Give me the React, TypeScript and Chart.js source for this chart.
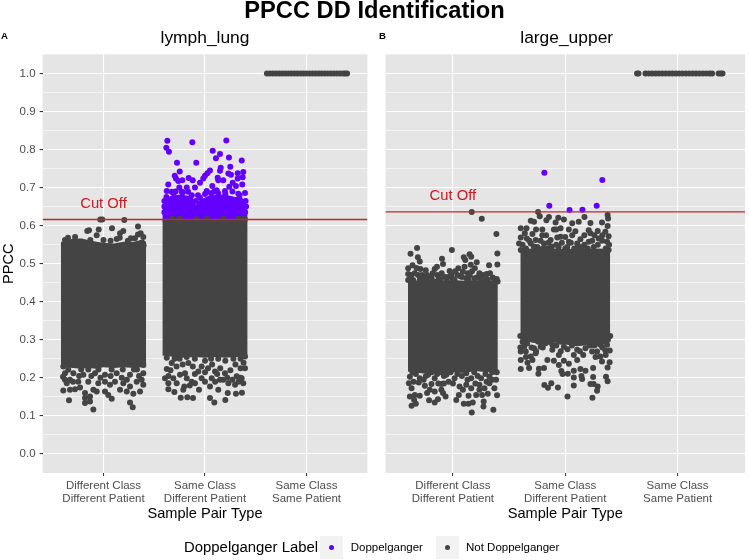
import React, { useEffect, useRef } from "react";
import { Chart, registerables } from "chart.js";

Chart.register(...registerables);

const FONT = "'Liberation Sans', Arial, sans-serif";
const GREY = "#444444";
const PURPLE = "#6400FF";

const chartTitle = "PPCC DD Identification";
const xAxisTitle = "Sample Pair Type";
const yAxisTitle = "PPCC";
const cutLabel = "Cut Off";
const legendTitle = "Doppelganger Label";
const legendNames = ["Doppelganger", "Not Doppelganger"];
const categories = [
  ["Different Class", "Different Patient"],
  ["Same Class", "Different Patient"],
  ["Same Class", "Same Patient"],
];
const categoryPositions = [1, 2, 3];
const yTicks = [0, 0.05, 0.1, 0.15, 0.2, 0.25, 0.3, 0.35, 0.4, 0.45, 0.5, 0.55, 0.6, 0.65, 0.7, 0.75, 0.8, 0.85, 0.9, 0.95, 1];

const lymphCut = 0.6162;
const largeCut = 0.6362;

// The saturated centre of each cloud is opaque in the reference, so single points
// cannot be read there: it is kept as its outline (x, upper PPCC, lower PPCC).
const lymphDiffMassX = [0.58, 0.6, 0.7, 0.78, 0.85, 0.93, 1.0, 1.1, 1.2, 1.3, 1.38, 1.42];
const lymphDiffMassTop = [0.558, 0.558, 0.566, 0.566, 0.562, 0.558, 0.555, 0.553, 0.558, 0.558, 0.563, 0.558];
const lymphDiffMassLow = [0.228, 0.228, 0.226, 0.224, 0.226, 0.224, 0.228, 0.226, 0.228, 0.226, 0.228, 0.228];
const lymphSameMassX = [1.58, 1.6, 1.7, 1.8, 1.9, 2.0, 2.1, 2.2, 2.3, 2.4, 2.42];
const lymphSameMassTop = [0.6165, 0.6165, 0.6165, 0.6165, 0.6165, 0.6165, 0.6165, 0.6165, 0.6165, 0.6165, 0.6165];
const lymphSameMassLow = [0.258, 0.258, 0.255, 0.253, 0.255, 0.253, 0.255, 0.253, 0.255, 0.255, 0.258];
const lymphPurpleMassX = [1.58, 1.606, 1.655, 1.754, 1.852, 1.882, 1.911, 1.951, 2.049, 2.197, 2.296, 2.364, 2.414, 2.42];
const lymphPurpleMassTop = [0.64, 0.66, 0.678, 0.682, 0.678, 0.672, 0.655, 0.668, 0.68, 0.682, 0.675, 0.675, 0.65, 0.635];
const lymphPurpleMassLow = [0.61, 0.61, 0.61, 0.61, 0.61, 0.61, 0.61, 0.61, 0.61, 0.61, 0.61, 0.61, 0.61, 0.61];
const largeDiffMassX = [0.6, 0.62, 0.7, 0.8, 0.9, 1.0, 1.1, 1.2, 1.3, 1.38, 1.4];
const largeDiffMassTop = [0.457, 0.457, 0.455, 0.457, 0.455, 0.457, 0.455, 0.457, 0.455, 0.457, 0.457];
const largeDiffMassLow = [0.216, 0.216, 0.213, 0.21, 0.212, 0.215, 0.213, 0.218, 0.215, 0.216, 0.216];
const largeSameMassX = [1.6, 1.62, 1.7, 1.8, 1.9, 2.0, 2.1, 2.2, 2.3, 2.39, 2.4];
const largeSameMassTop = [0.538, 0.538, 0.54, 0.538, 0.54, 0.538, 0.54, 0.538, 0.54, 0.538, 0.538];
const largeSameMassLow = [0.298, 0.298, 0.293, 0.288, 0.293, 0.288, 0.283, 0.286, 0.283, 0.293, 0.298];

const lymphDiffPoints = [
  [0.988,0.616],[0.968,0.616],[1.205,0.615],[0.857,0.588],[0.953,0.59],[1.084,0.593],[1.34,0.598],[1.195,0.586],[1.163,0.58],[1.366,0.58],[1.392,0.57],[0.933,0.575],[0.84,0.586],[1.16,0.568],[1.27,0.567],[1.34,0.577],
  [0.62,0.562],[0.65,0.568],[0.72,0.57],[0.79,0.558],[0.87,0.562],[1.0,0.562],[1.07,0.56],[1.13,0.565],[1.24,0.56],[1.31,0.567],[1.38,0.556],[0.61,0.55],[1.395,0.548],
  [0.604,0.167],[0.66,0.141],[0.9,0.117],[1.288,0.123],[1.261,0.135],[0.818,0.134],[0.867,0.138],[0.818,0.147],[0.818,0.16],[0.867,0.151],[1.081,0.145],[1.047,0.155],[1.015,0.164],[0.67,0.169],[0.719,0.17],[0.769,0.175],[0.9,0.169],[0.933,0.164],[1.163,0.169],[1.229,0.164],[1.294,0.158],[1.36,0.164],[1.392,0.182],[1.376,0.195],[1.327,0.19],[1.261,0.177],[0.638,0.186],[0.601,0.203],[0.604,0.23],[0.67,0.195],[0.752,0.19],[0.85,0.19],[0.949,0.186],[1.064,0.182],[1.113,0.19],[1.195,0.186],[0.703,0.212],[0.801,0.208],[0.916,0.212],[1.015,0.208],[1.13,0.212],[1.261,0.208],[1.392,0.212],[0.621,0.212],[1.015,0.19],[0.653,0.221],[1.392,0.234],
  [0.78,0.222],[0.85,0.222],[0.95,0.222],[1.08,0.222],[1.19,0.222],[1.3,0.222],[1.35,0.205],[0.76,0.205],[0.88,0.205],[0.97,0.2],[1.07,0.205],[1.18,0.2],[1.23,0.195],[1.33,0.222],[0.62,0.195],[0.7,0.19],
];
const lymphSamePoints = [
  [1.68,0.618],[1.75,0.619],[1.92,0.617],[2.02,0.618],[2.18,0.618],[2.33,0.619],[2.39,0.618],
  [1.623,0.223],[1.606,0.199],[1.639,0.186],[1.639,0.17],[1.698,0.163],[1.761,0.148],[1.826,0.149],[1.882,0.147],[1.941,0.169],[1.786,0.169],[1.796,0.177],[1.721,0.186],[1.688,0.199],[1.754,0.208],[1.82,0.199],[1.869,0.19],[1.901,0.186],[1.967,0.199],[2.049,0.147],[2.092,0.135],[2.2,0.142],[2.305,0.158],[2.364,0.161],[2.224,0.16],[2.131,0.169],[2.049,0.177],[2.0,0.19],[2.066,0.199],[2.148,0.195],[2.23,0.186],[2.296,0.182],[2.377,0.186],[2.394,0.225],[2.312,0.204],[2.197,0.212],[2.099,0.217],[1.934,0.217],[1.803,0.212],[1.672,0.239],[1.836,0.239],[2.394,0.256],[1.623,0.253],[1.967,0.23],[2.361,0.199],
  [1.66,0.22],[1.72,0.23],[1.78,0.235],[1.88,0.23],[1.9,0.21],[2.03,0.225],[2.07,0.235],[2.15,0.225],[2.25,0.22],[2.3,0.235],[2.35,0.225],[2.1,0.19],[2.18,0.195],[2.27,0.195],[2.33,0.19],[1.64,0.205],[2.0,0.215],[1.85,0.18],[2.22,0.2],[2.12,0.21],[2.35,0.2],[2.38,0.24],
  [1.7,0.25],[1.75,0.25],[1.82,0.255],[1.9,0.25],[2.0,0.245],[2.06,0.25],[2.13,0.25],[2.2,0.245],[2.28,0.25],[2.35,0.25],
];
const lymphSameDoppelganger = [
  [1.629,0.823],[1.875,0.819],[2.21,0.824],[1.619,0.805],[1.645,0.794],[2.076,0.797],[2.148,0.788],[2.108,0.777],[2.236,0.779],[2.362,0.771],[1.724,0.765],[1.914,0.765],[2.249,0.755],[1.751,0.742],[2.049,0.745],[2.155,0.752],[2.148,0.744],[2.377,0.741],[2.322,0.738],[2.23,0.737],[2.256,0.734],[2.023,0.738],[1.702,0.731],[1.714,0.724],[2.0,0.731],[1.983,0.724],[2.125,0.726],[2.131,0.719],[2.371,0.727],[2.322,0.724],[1.839,0.725],[1.879,0.719],[1.776,0.719],[1.737,0.717],[1.951,0.713],[2.18,0.719],[2.273,0.713],[1.638,0.708],[2.367,0.708],[2.305,0.704],[1.623,0.691],[1.747,0.7],[1.82,0.7],[1.901,0.7],[2.072,0.704],[2.394,0.686],[2.239,0.702],
  [1.931,0.68],[2.017,0.691],[1.672,0.689],[1.771,0.689],[1.833,0.689],[2.115,0.693],[2.197,0.691],[2.328,0.684],
  [1.6,0.665],[1.62,0.675],[1.69,0.685],[1.78,0.687],[1.87,0.68],[1.95,0.673],[2.0,0.683],[2.06,0.685],[2.13,0.685],[2.2,0.683],[2.27,0.69],[2.34,0.68],[2.4,0.665],[2.405,0.65],[1.6,0.65],[1.91,0.665],[2.09,0.69],[1.71,0.69],[2.395,0.635],[1.6,0.635],
];
const lymphSelfX = [2.61,2.64,2.67,2.7,2.73,2.76,2.79,2.82,2.85,2.88,2.91,2.94,2.97,3.0,3.03,3.06,3.09,3.12,3.15,3.18,3.21,3.24,3.27,3.3,3.33,3.36,3.38,3.4];

const largeDiffPoints = [
  [1.168,0.636],[1.257,0.618],[1.387,0.578],[0.681,0.541],[0.623,0.526],[0.991,0.536],[1.396,0.527],[0.688,0.517],[0.705,0.506],[0.903,0.513],[1.148,0.525],[1.163,0.518],[1.097,0.517],[1.11,0.51],[1.212,0.504],[1.159,0.497],[1.396,0.498],[1.322,0.496],[0.912,0.499],[0.858,0.492],[0.838,0.486],[0.641,0.496],[0.602,0.488],[0.676,0.489],[0.711,0.486],[0.758,0.483],[0.726,0.47],[1.048,0.488],[1.104,0.492],[1.195,0.488],[0.971,0.481],[0.986,0.47],[1.089,0.479],[1.133,0.475],[1.236,0.475],[1.301,0.473],[1.266,0.47],[0.602,0.473],[1.354,0.464],[1.398,0.453],[0.809,0.464],[0.876,0.46],[1.059,0.468],[1.192,0.462],[0.602,0.457],[0.646,0.457],[0.705,0.457],[0.779,0.457],[0.838,0.453],[0.942,0.453],[1.015,0.457],[1.119,0.462],[1.281,0.453],
  [0.63,0.47],[0.66,0.475],[0.69,0.47],[0.74,0.46],[0.77,0.47],[0.82,0.475],[0.86,0.47],[0.9,0.475],[0.93,0.465],[0.96,0.465],[1.02,0.48],[1.04,0.47],[1.08,0.465],[1.15,0.47],[1.17,0.48],[1.22,0.465],[1.25,0.46],[1.3,0.46],[1.33,0.475],[1.37,0.46],[0.62,0.46],[0.72,0.46],[0.89,0.46],[1.0,0.46],[1.14,0.46],[1.31,0.458],[1.39,0.46],
  [1.168,0.109],[1.36,0.116],[0.632,0.127],[0.67,0.132],[0.617,0.151],[0.655,0.142],[0.661,0.155],[0.705,0.153],[0.788,0.141],[0.838,0.135],[0.867,0.144],[0.935,0.151],[1.03,0.142],[1.053,0.155],[1.097,0.132],[1.139,0.132],[1.177,0.135],[1.274,0.138],[1.272,0.125],[1.393,0.154],[1.139,0.153],[1.207,0.155],[1.26,0.155],[1.31,0.158],[0.632,0.173],[0.608,0.186],[0.696,0.188],[0.75,0.179],[0.794,0.169],[0.838,0.164],[0.897,0.169],[0.912,0.16],[0.77,0.16],[0.809,0.184],[0.897,0.184],[0.962,0.19],[1.059,0.177],[1.089,0.169],[1.163,0.173],[1.236,0.169],[1.281,0.173],[1.325,0.186],[1.369,0.173],[1.384,0.195],[0.617,0.203],[0.705,0.199],[0.838,0.199],[1.015,0.199],[1.119,0.212],[1.163,0.199],[1.251,0.199],[1.325,0.203],[0.942,0.208],[0.779,0.208],[1.236,0.182],[1.119,0.182],
  [0.64,0.215],[0.67,0.21],[0.73,0.22],[0.76,0.205],[0.81,0.215],[0.86,0.21],[0.89,0.215],[0.92,0.205],[0.98,0.215],[1.04,0.21],[1.08,0.205],[1.13,0.195],[1.19,0.215],[1.22,0.205],[1.29,0.21],[1.35,0.215],[1.39,0.215],[0.65,0.19],[0.74,0.195],[0.87,0.185],[0.92,0.185],[1.0,0.185],[1.2,0.185],[1.3,0.19],[1.35,0.195],
];
const largeSamePoints = [
  [1.758,0.636],[1.773,0.625],[1.855,0.623],[1.832,0.614],[1.938,0.621],[1.988,0.616],[1.914,0.608],[2.171,0.623],[2.12,0.61],[2.062,0.606],[2.224,0.607],[2.327,0.608],[2.377,0.628],[2.381,0.619],[1.693,0.613],[1.722,0.61],[2.377,0.599],[1.655,0.593],[1.604,0.593],[1.796,0.59],[1.899,0.59],[1.958,0.593],[2.032,0.59],[2.209,0.588],[2.289,0.586],[2.357,0.584],[1.708,0.578],[1.796,0.575],[1.958,0.571],[2.062,0.575],[2.224,0.58],[2.386,0.572],[1.604,0.569],[1.658,0.566],[1.737,0.562],[1.87,0.562],[2.032,0.558],[2.135,0.564],[2.297,0.566],[1.589,0.553],[1.693,0.553],[1.811,0.553],[1.929,0.569],[2.106,0.553],[2.209,0.558],[2.372,0.558],[1.752,0.544],[1.941,0.544],[2.018,0.544],[2.15,0.543],[2.253,0.544],[1.604,0.536],[1.841,0.54],[2.386,0.536],
  [1.62,0.55],[1.65,0.54],[1.68,0.56],[1.72,0.545],[1.78,0.56],[1.8,0.54],[1.85,0.555],[1.88,0.545],[1.92,0.55],[1.97,0.555],[2.0,0.54],[2.05,0.555],[2.08,0.54],[2.12,0.545],[2.17,0.55],[2.2,0.54],[2.24,0.56],[2.29,0.55],[2.33,0.56],[2.36,0.54],[2.39,0.55],[1.64,0.58],[1.74,0.59],[1.83,0.575],[1.92,0.59],[2.0,0.57],[2.09,0.585],[2.17,0.575],[2.26,0.575],[2.33,0.575],
  [2.02,0.151],[2.242,0.148],[1.935,0.175],[2.076,0.18],[1.814,0.181],[1.846,0.174],[1.876,0.186],[2.224,0.184],[2.289,0.177],[2.283,0.166],[2.253,0.184],[2.377,0.191],[2.363,0.203],[2.248,0.202],[2.15,0.197],[2.076,0.201],[1.761,0.211],[1.604,0.223],[1.678,0.226],[1.766,0.224],[1.811,0.226],[1.965,0.218],[1.976,0.21],[2.023,0.211],[2.076,0.219],[2.135,0.223],[2.18,0.219],[2.248,0.226],[2.377,0.227],[2.395,0.241],[2.144,0.205],[1.604,0.247],[1.664,0.24],[1.708,0.247],[1.841,0.247],[1.899,0.245],[1.943,0.234],[1.988,0.245],[2.032,0.237],[2.312,0.256],[2.327,0.243],[2.106,0.247],[1.604,0.269],[1.649,0.269],[1.693,0.256],[1.737,0.265],[1.781,0.282],[1.885,0.274],[1.943,0.26],[2.076,0.26],[2.106,0.274],[2.239,0.269],[2.283,0.269],[2.357,0.272],[2.396,0.272],[1.634,0.291],[1.634,0.282],[1.826,0.291],[1.988,0.282],[2.18,0.278],[2.312,0.287],[2.372,0.287],[1.722,0.278],[1.885,0.287],
  [1.62,0.295],[1.66,0.29],[1.7,0.28],[1.76,0.295],[1.8,0.28],[1.85,0.295],[1.92,0.285],[1.96,0.295],[2.02,0.275],[2.06,0.285],[2.13,0.27],[2.22,0.285],[2.26,0.285],[2.33,0.28],[2.38,0.3],[1.6,0.31],[2.4,0.31],[1.74,0.27],[1.65,0.255],[1.96,0.27],[2.16,0.26],[2.27,0.255],[2.36,0.26],[1.6,0.28],
];
const largeSameDoppelganger = [
  [1.858,0.652],[2.038,0.641],[2.153,0.642],[2.28,0.652],[1.814,0.739],[2.33,0.72],
];
const largeSelfX = [2.639,2.652,2.714,2.744,2.774,2.804,2.834,2.864,2.894,2.924,2.954,2.984,3.014,3.044,3.074,3.104,3.134,3.164,3.194,3.224,3.254,3.284,3.307,3.365,3.385,3.4];

const toPoints = (rows: number[][]) => rows.map(([x, y]) => ({ x, y }));
const selfPoints = (xs: number[]) => xs.map((x) => ({ x, y: 1 }));
const outline = (xs: number[], ys: number[]) => xs.map((x, i) => ({ x, y: ys[i] }));

function massDatasets(xs: number[], top: number[], low: number[], color: string, order: number) {
  return [
    { data: outline(xs, top), showLine: true, borderWidth: 0, pointRadius: 0, backgroundColor: color, fill: "+1", order, tension: 0 },
    { data: outline(xs, low), showLine: true, borderWidth: 0, pointRadius: 0, backgroundColor: color, fill: false, order, tension: 0 },
  ];
}
const dots = (data: any[], color: string, order: number) => ({
  data, showLine: false, pointRadius: 3, pointBorderWidth: 0, pointBackgroundColor: color, backgroundColor: color, order,
});

function Panel({ left, width, areaLeft, areaRight, showY, cut, datasets }: any) {
  const ref = useRef<HTMLCanvasElement | null>(null);
  useEffect(() => {
    if (!ref.current) return;
    const panelPlugin = {
      id: "panelDecor",
      beforeDraw(c: any) {
        const { ctx, chartArea: a } = c;
        ctx.save();
        ctx.fillStyle = "#E5E5E5";
        ctx.fillRect(a.left, a.top, a.right - a.left, a.bottom - a.top);
        ctx.restore();
      },
      afterDatasetsDraw(c: any) {
        const { ctx, scales } = c;
        ctx.save();
        ctx.fillStyle = "#D2161E";
        ctx.font = `14.8px ${FONT}`;
        ctx.textAlign = "center";
        ctx.textBaseline = "middle";
        ctx.fillText(cutLabel, scales.x.getPixelForValue(1), scales.y.getPixelForValue(cut + 0.041));
        ctx.restore();
      },
    };
    const chart = new Chart(ref.current, {
      type: "scatter",
      data: {
        datasets: [
          { data: [{ x: 0.4, y: cut }, { x: 3.6, y: cut }], showLine: true, borderColor: "#B92A2E", borderWidth: 1.3, pointRadius: 0, fill: false, order: 1 },
          ...datasets,
        ],
      },
      plugins: [panelPlugin],
      options: {
        animation: false,
        responsive: false,
        maintainAspectRatio: false,
        events: [],
        layout: { padding: { top: 54.4, left: 0, right: width - areaRight, bottom: 37 } },
        plugins: { legend: { display: false }, tooltip: { enabled: false }, title: { display: false } },
        scales: {
          x: {
            type: "linear",
            min: 0.4,
            max: 3.6,
            afterBuildTicks: (s: any) => { s.ticks = categoryPositions.map((value) => ({ value })); },
            afterFit: (s: any) => { s.height = 50; },
            border: { display: false },
            grid: { color: "#FFFFFF", lineWidth: 1.1, tickColor: "#333333", tickLength: 3, tickWidth: 1 },
            ticks: {
              color: "#4D4D4D",
              font: { family: FONT, size: 11.5, lineHeight: 1.08 },
              padding: 4,
              autoSkip: false,
              maxRotation: 0,
              callback: (v: any) => categories[Number(v) - 1],
            },
            title: { display: true, text: xAxisTitle, color: "#000000", font: { family: FONT, size: 14.6 }, padding: { top: 0, bottom: 0 } },
          },
          y: {
            type: "linear",
            min: -0.05,
            max: 1.05,
            afterBuildTicks: (s: any) => { s.ticks = yTicks.map((value) => ({ value })); },
            afterFit: (s: any) => { s.width = areaLeft; },
            border: { display: false },
            grid: {
              color: "#FFFFFF",
              lineWidth: (c: any) => (Math.round(c.tick.value * 100) % 10 === 0 ? 1.1 : 0.55),
              tickColor: (c: any) => (Math.round(c.tick.value * 100) % 10 === 0 ? "#333333" : "rgba(0,0,0,0)"),
              tickLength: 3,
              drawTicks: showY,
            },
            ticks: {
              display: showY,
              color: "#4D4D4D",
              font: { family: FONT, size: 11.5 },
              padding: 4,
              autoSkip: false,
              callback: (v: any) => (Math.round(Number(v) * 100) % 10 === 0 ? Number(v).toFixed(1) : ""),
            },
            title: { display: showY, text: yAxisTitle, color: "#000000", font: { family: FONT, size: 14.6 }, padding: { top: 0, bottom: 0 } },
          },
        },
      },
    } as any);
    return () => chart.destroy();
  }, []);
  return <canvas ref={ref} width={width} height={560} style={{ position: "absolute", left, top: 0, display: "block" }} />;
}

const text = (content: string, style: any) => (
  <div style={{ position: "absolute", fontFamily: FONT, whiteSpace: "nowrap", lineHeight: 1, color: "#000", ...style }}>{content}</div>
);

const key = (left: number, color: string) => (
  <div style={{ position: "absolute", left, top: 536, width: 23, height: 23, background: "#F2F2F2" }}>
    <div style={{ position: "absolute", left: 9, top: 9, width: 5, height: 5, borderRadius: "50%", background: color }} />
  </div>
);

export default function App() {
  const lymphSets = [
    ...massDatasets(lymphPurpleMassX, lymphPurpleMassTop, lymphPurpleMassLow, PURPLE, 7),
    dots(toPoints(lymphSameDoppelganger), PURPLE, 6),
    ...massDatasets(lymphDiffMassX, lymphDiffMassTop, lymphDiffMassLow, GREY, 5),
    ...massDatasets(lymphSameMassX, lymphSameMassTop, lymphSameMassLow, GREY, 4),
    dots(toPoints(lymphDiffPoints), GREY, 3),
    dots(toPoints(lymphSamePoints), GREY, 3),
    dots(selfPoints(lymphSelfX), GREY, 3),
  ];
  const largeSets = [
    dots(toPoints(largeSameDoppelganger), PURPLE, 6),
    ...massDatasets(largeDiffMassX, largeDiffMassTop, largeDiffMassLow, GREY, 5),
    ...massDatasets(largeSameMassX, largeSameMassTop, largeSameMassLow, GREY, 4),
    dots(toPoints(largeDiffPoints), GREY, 3),
    dots(toPoints(largeSamePoints), GREY, 3),
    dots(selfPoints(largeSelfX), GREY, 3),
  ];
  return (
    <div style={{ position: "absolute", left: 0, top: 0, width: 749, height: 560, overflow: "hidden", background: "#FFFFFF" }}>
      <Panel left={0} width={375} areaLeft={42.6} areaRight={367.4} showY={true} cut={lymphCut} datasets={lymphSets} />
      <Panel left={375} width={374} areaLeft={10.5} areaRight={372} showY={false} cut={largeCut} datasets={largeSets} />
      {text(chartTitle, { left: 374.5, top: -1, fontSize: 23.7, fontWeight: 700, transform: "translateX(-50%)" })}
      {text("A", { left: 1, top: 31, fontSize: 9.6, fontWeight: 700 })}
      {text("B", { left: 379, top: 31, fontSize: 9.6, fontWeight: 700 })}
      {text("lymph_lung", { left: 205, top: 29, fontSize: 17.4, transform: "translateX(-50%)" })}
      {text("large_upper", { left: 566.7, top: 29, fontSize: 17.4, transform: "translateX(-50%)" })}
      {text(legendTitle, { left: 184, top: 540, fontSize: 14.9 })}
      {key(320, PURPLE)}
      {text(legendNames[0], { left: 350.7, top: 542, fontSize: 11.5 })}
      {key(435.7, GREY)}
      {text(legendNames[1], { left: 466, top: 542, fontSize: 11.5 })}
    </div>
  );
}
